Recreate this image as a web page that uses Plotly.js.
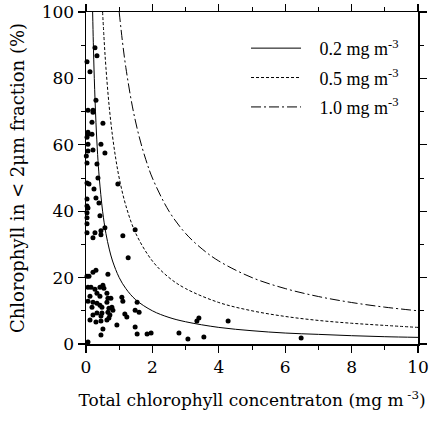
<!DOCTYPE html>
<html>
<head>
<meta charset="utf-8">
<script src="https://cdn.plot.ly/plotly-3.0.1.min.js"></script>
<style>html,body{margin:0;padding:0;background:#fff;}#chart{width:430px;height:429px;}</style>
</head>
<body>
<div id="chart"></div>
<script>
// Reference curves
const curve02X = [0.2,0.22,0.25,0.3,0.35,0.4,0.5,0.6,0.7,0.8,1,1.2,1.5,2,2.5,3,4,5,6,7,8,9,10];
const curve02Y = [100,90.9,80,66.7,57.1,50,40,33.3,28.6,25,20,16.7,13.3,10,8,6.7,5,4,3.3,2.9,2.5,2.2,2];
const curve05X = [0.5,0.55,0.6,0.7,0.8,0.9,1,1.2,1.5,2,2.5,3,4,5,6,7,8,9,10];
const curve05Y = [100,90.9,83.3,71.4,62.5,55.6,50,41.7,33.3,25,20,16.7,12.5,10,8.3,7.1,6.25,5.6,5];
const curve10X = [1,1.1,1.2,1.4,1.6,1.8,2,2.5,3,3.5,4,5,6,7,8,9,10];
const curve10Y = [100,90.9,83.3,71.4,62.5,55.6,50,40,33.3,28.6,25,20,16.7,14.3,12.5,11.1,10];
const curveLabels = ["0.2 mg m<sup>-3</sup>", "0.5 mg m<sup>-3</sup>", "1.0 mg m<sup>-3</sup>"];

// Observations
const obsX = [0.27,0.33,0.03,0.12,0.30,0.06,0.21,0.21,0.18,0.51,0.06,0.06,0.18,0.03,0.45,0.06,0.21,0.06,0.57,0.01,0.03,0.33,0.36,
  0.03,0.09,0.24,0.30,0.03,0.03,0.39,0.06,0.03,0.03,0.42,0.96,0.03,0.57,0.45,0.27,0.45,0.21,0.03,1.11,1.48,1.27,
  0.66,0.30,0.21,0.09,0.03,0.06,0.15,0.27,0.42,0.51,0.54,0.12,0.33,0.63,0.42,0.66,0.75,1.08,1.11,0.06,0.21,0.33,
  0.42,0.48,0.63,0.18,0.69,0.78,0.81,0.66,0.48,0.21,0.33,0.45,0.72,1.17,1.23,1.54,1.48,1.60,0.12,0.30,0.45,0.63,
  0.69,0.51,0.93,0.45,1.48,1.54,1.84,1.96,2.80,0.06,3.07,3.34,3.40,3.55,4.28,6.48];
const obsY = [89.2,86.8,85.0,82.0,73.4,70.4,70.4,69.8,66.8,66.5,63.8,63.2,63.2,62.3,60.2,60.2,58.4,58.1,57.5,56.6,54.5,54.2,50.0,
  48.5,48.2,46.7,44.0,43.7,41.6,42.5,41.0,39.5,38.0,38.6,48.2,36.2,35.0,34.1,33.5,32.9,32.0,33.5,32.6,34.4,26.0,
  21.0,22.2,21.6,20.4,20.4,17.1,17.1,16.5,17.1,17.7,16.8,14.4,15.3,15.3,14.4,13.8,13.8,14.1,12.9,12.9,12.6,12.3,
  11.7,11.1,12.6,11.1,10.8,11.1,10.2,9.6,9.3,8.7,9.3,8.4,8.7,9.0,8.1,12.6,10.2,9.6,7.2,6.6,6.9,7.2,
  7.8,4.5,5.7,2.7,5.1,3.0,3.0,3.3,3.3,0.6,1.5,6.9,7.8,2.1,6.9,1.8];

const xTitle = "Total chlorophyll concentraton (mg m<sup> -3</sup>)";
const yTitle = "Chlorophyll in < 2μm fraction (%)";

const FONT = "DejaVu Serif, Liberation Serif, serif";
const LFONT = "Liberation Serif, DejaVu Serif, serif";
const GAP = "\u00a0\u00a0\u00a0";

const traces = [
  {x: obsX, y: obsY, type: 'scatter', mode: 'markers', showlegend: false, cliponaxis: false,
   marker: {color: '#000', size: 5}},
  {x: curve02X, y: curve02Y, type: 'scatter', mode: 'lines', name: GAP + curveLabels[0], legendgroup: 'a',
   line: {color: '#000', width: 1, dash: 'solid', shape: 'spline'}},
  {x: curve05X, y: curve05Y, type: 'scatter', mode: 'lines', name: GAP + curveLabels[1], legendgroup: 'b',
   line: {color: '#000', width: 1, dash: '3px,2px', shape: 'spline'}},
  {x: curve10X, y: curve10Y, type: 'scatter', mode: 'lines', name: GAP + curveLabels[2], legendgroup: 'c',
   line: {color: '#000', width: 1, dash: '10px,3px,2px,3px', shape: 'spline'}}
];

const layout = {
  width: 430, height: 429,
  margin: {l: 86, r: 12, t: 12, b: 85},
  paper_bgcolor: '#fff', plot_bgcolor: '#fff',
  font: {family: FONT, color: '#000'},
  xaxis: {
    showline: true, linecolor: '#000', linewidth: 1.5, mirror: 'allticks',
    ticks: 'outside', ticklen: 7, tickwidth: 1.2, tickcolor: '#000',
    showgrid: false, zeroline: false,
    tickfont: {family: FONT, size: 17, color: '#000'},
    range: [0, 10], dtick: 2, tick0: 0,
    minor: {dtick: 1, ticks: 'outside', ticklen: 4, tickwidth: 1, tickcolor: '#000'},
    title: {text: xTitle, font: {family: FONT, size: 17, color: '#000'}, standoff: 18}
  },
  yaxis: {
    showline: true, linecolor: '#000', linewidth: 1.5, mirror: 'allticks',
    ticks: 'outside', ticklen: 7, tickwidth: 1.2, tickcolor: '#000',
    showgrid: false, zeroline: false,
    tickfont: {family: FONT, size: 17, color: '#000'},
    range: [0, 100], dtick: 20, tick0: 0,
    minor: {dtick: 10, ticks: 'outside', ticklen: 4, tickwidth: 1, tickcolor: '#000'},
    title: {text: yTitle, font: {family: FONT, size: 18, color: '#000'}, standoff: 12}
  },
  legend: {
    x: 0.482, y: 0.946, xanchor: 'left', yanchor: 'top',
    bgcolor: 'rgba(0,0,0,0)', borderwidth: 0,
    font: {family: LFONT, size: 18, color: '#000'},
    tracegroupgap: 3, itemwidth: 50
  }
};

Plotly.newPlot('chart', traces, layout, {displayModeBar: false, staticPlot: true});
</script>
</body>
</html>
